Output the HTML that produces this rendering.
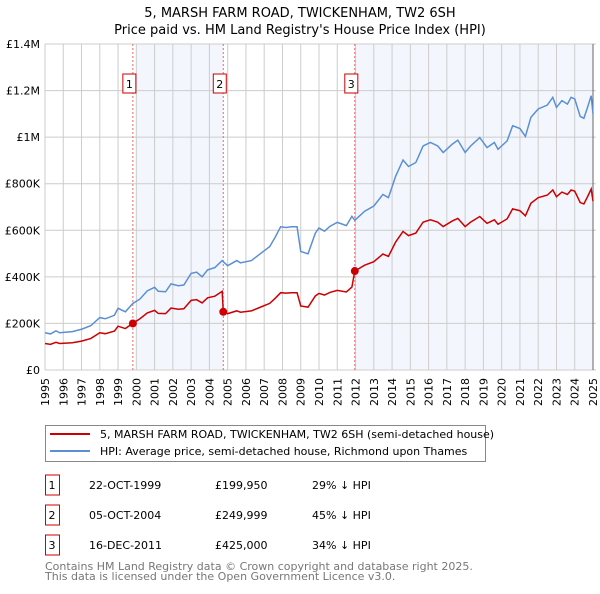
<!DOCTYPE html>
<html><head><meta charset="utf-8"><style>
body{margin:0;background:#fff;font-family:"DejaVu Sans","Liberation Sans",sans-serif;}
svg text{font-family:"DejaVu Sans","Liberation Sans",sans-serif;}
</style></head><body>
<svg id="chart" width="600" height="590" xmlns="http://www.w3.org/2000/svg">
<text x="300" y="17" text-anchor="middle" font-size="13">5, MARSH FARM ROAD, TWICKENHAM, TW2 6SH</text>
<text x="300" y="34" text-anchor="middle" font-size="13">Price paid vs. HM Land Registry's House Price Index (HPI)</text>
<g id="plot"></g>
<g>
<rect x="45.5" y="425.5" width="440" height="36" fill="#fff" stroke="#888"/>
<line x1="50" y1="434" x2="90" y2="434" stroke="#cc0000" stroke-width="2"/>
<text x="100" y="438" font-size="11">5, MARSH FARM ROAD, TWICKENHAM, TW2 6SH (semi-detached house)</text>
<line x1="50" y1="451" x2="90" y2="451" stroke="#5b8fd4" stroke-width="2"/>
<text x="100" y="455" font-size="11">HPI: Average price, semi-detached house, Richmond upon Thames</text>
</g>
<g id="table" font-size="11"></g>
<text x="45" y="570" font-size="11" fill="#777">Contains HM Land Registry data © Crown copyright and database right 2025.</text>
<text x="45" y="580" font-size="11" fill="#777">This data is licensed under the Open Government Licence v3.0.</text>
</svg>
<script>
const years=[1995.0,1995.3,1995.6,1995.8,1996.5,1997.0,1997.5,1998.0,1998.3,1998.8,1999.0,1999.4,1999.8,2000.2,2000.6,2001.0,2001.2,2001.6,2001.9,2002.3,2002.6,2003.0,2003.3,2003.6,2003.9,2004.3,2004.7,2004.76,2005.0,2005.5,2005.7,2006.3,2006.8,2007.3,2007.6,2007.9,2008.2,2008.5,2008.8,2009.0,2009.4,2009.8,2010.0,2010.3,2010.6,2011.0,2011.5,2011.8,2011.96,2012.5,2013.0,2013.5,2013.8,2014.2,2014.6,2014.9,2015.3,2015.7,2016.1,2016.5,2016.8,2017.3,2017.6,2018.0,2018.3,2018.8,2019.2,2019.6,2019.8,2020.3,2020.6,2021.0,2021.3,2021.6,2022.0,2022.5,2022.8,2023.0,2023.3,2023.6,2023.8,2024.0,2024.3,2024.5,2024.7,2024.9,2025.0];
const hpiValues=[160,155,168,160,165,175,190,225,220,235,265,250,285,305,340,355,338,336,370,362,365,415,420,400,430,440,470,465,448,470,460,470,500,530,570,615,612,615,615,509,499,588,610,596,617,634,620,660,643,682,704,754,740,833,902,874,891,962,977,962,934,970,987,934,962,998,955,977,948,984,1049,1037,1003,1085,1121,1138,1171,1128,1157,1142,1171,1164,1089,1081,1128,1178,1099];
const priceValues=[114,110,119,114,117,124,135,160,156,167,188,178,200,220,245,256,243,242,266,261,263,299,302,288,310,317,338,250,242,254,248,254,270,286,308,332,330,332,332,275,270,318,329,322,333,342,335,356,425,450,465,498,488,550,595,577,588,635,645,635,616,640,651,616,635,659,630,645,626,649,692,684,662,716,740,751,773,744,764,754,773,768,719,713,744,777,725];
const saleYears=[1999.81,2004.76,2011.96];
const salePrices=[199950,249999,425000];
const saleLabels=["1","2","3"];
const saleDates=["22-OCT-1999","05-OCT-2004","16-DEC-2011"];
const salePriceText=["£199,950","£249,999","£425,000"];
const saleDiffText=["29% ↓ HPI","45% ↓ HPI","34% ↓ HPI"];
const yTicks=[0,200000,400000,600000,800000,1000000,1200000,1400000];
const yTickLabels=["£0","£200K","£400K","£600K","£800K","£1M","£1.2M","£1.4M"];

const NS="http://www.w3.org/2000/svg";
const X0=45,X1=593,Y0=370,Y1=44;
const xs=y=>X0+(y-1995)/30*(X1-X0);
const ys=v=>Y0-v/1400000*(Y0-Y1);
const plot=document.getElementById('plot');
function mk(tag,attrs,parent){const e=document.createElementNS(NS,tag);for(const k in attrs)e.setAttribute(k,attrs[k]);(parent||plot).appendChild(e);return e;}
const sh1=mk('rect',{x:xs(2000),y:Y1,width:xs(saleYears[1])-xs(2000),height:Y0-Y1,fill:'#eef3fc',opacity:0.7});


const sh2=mk('rect',{x:xs(saleYears[2]),y:Y1,width:X1-xs(saleYears[2]),height:Y0-Y1,fill:'#eef3fc',opacity:0.7});


for(let yr=1995;yr<=2025;yr++){
 const g=mk('line',{x1:xs(yr),x2:xs(yr),y1:Y1,y2:Y0,stroke:'#cccccc','stroke-width':1});
 
 
 const t=mk('text',{x:0,y:0,'font-size':11,'text-anchor':'end',transform:`translate(${xs(yr)+4},${Y0+8}) rotate(-90)`});
 t.textContent=String(yr);
 
 
}
yTicks.forEach((v,i)=>{
 const g=mk('line',{x1:X0,x2:X1+3,y1:ys(v),y2:ys(v),stroke:'#cccccc','stroke-width':1});
 
 
 const t=mk('text',{x:X0-5,y:ys(v)+4,'font-size':11,'text-anchor':'end'});
 t.textContent=yTickLabels[i];
 
 
});
const ax=mk('line',{x1:X1,x2:X1,y1:Y1,y2:Y0,stroke:'#666','stroke-width':1});


saleYears.forEach((s,i)=>{
 const l=mk('line',{x1:xs(s),x2:xs(s),y1:Y1,y2:Y0,stroke:'#ee6666','stroke-width':1,'stroke-dasharray':'2,2'});
 
 
 const b=mk('rect',{x:xs(s)-10,y:74,width:13,height:19,fill:'#fff',stroke:'#cc0000'});
 
 
 const t=mk('text',{x:xs(s)-3.5,y:88,'font-size':11,'text-anchor':'middle'});
 t.textContent=saleLabels[i];
 
 
});
const hp=mk('polyline',{points:years.map((y,i)=>xs(y)+','+ys(hpiValues[i]*1000)).join(' '),fill:'none',stroke:'#5b8fd4','stroke-width':1.5});


const pp=mk('polyline',{points:years.map((y,i)=>xs(y)+','+ys(priceValues[i]*1000)).join(' '),fill:'none',stroke:'#cc0000','stroke-width':1.5});


saleYears.forEach((s,i)=>{
 const c=mk('circle',{cx:xs(s),cy:ys(salePrices[i]),r:4,fill:'#cc0000'});
 
 
});
const tb=document.getElementById('table');
saleYears.forEach((s,i)=>{
 const y=483+i*30;
 const b=mk('rect',{x:45.5,y:y-8,width:14,height:20,fill:'#fff',stroke:'#cc0000'},tb);
 
 
 const cells=[[52,saleLabels[i],'middle'],[89,saleDates[i],'start'],[215,salePriceText[i],'start'],[312,saleDiffText[i],'start']];
 cells.forEach(c=>{const t=mk('text',{x:c[0],y:y+6,'font-size':11,'text-anchor':c[2]},tb);t.textContent=c[1];
 
 });
});
</script>
</body></html>
